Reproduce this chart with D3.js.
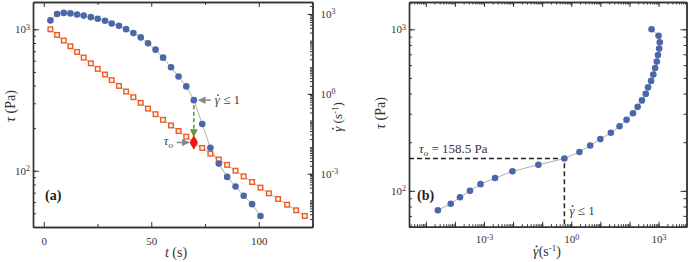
<!DOCTYPE html>
<html>
<head>
<meta charset="utf-8">
<script src="https://cdn.jsdelivr.net/npm/d3@7"></script>
<style>
  body { margin: 0; background: #fff; }
  svg { display: block; }
  svg text { font-family: "Liberation Serif", "Times New Roman", Times, "DejaVu Serif", serif; }
  .axis path, .axis line { stroke: #333; }
  .axis path { stroke-width: 1.4; }
  .axis text { font-size: 11px; fill: #333; }
</style>
</head>
<body>
<svg id="chart" width="690" height="262"></svg>
<script>
// time of each measurement (s)
var time = [3.1, 6.2, 9.3, 12.4, 15.5, 18.6, 21.9, 25.1, 28.5, 31.6, 35.0, 38.3, 41.7, 45.1, 48.5, 52.0, 55.5,
            59.2, 62.7, 66.3, 69.8, 73.7, 77.5, 81.4, 85.3, 89.2, 93.0, 96.9, 100.8, 104.7, 109.0, 113.2, 117.4, 121.4];
// applied stress (Pa)
var stress = [1000, 912, 832, 759, 692, 631, 575, 525, 479, 437, 398, 363, 331, 302, 275, 251, 229, 209, 191,
              174, 158.5, 145, 132, 120, 110, 100, 91.2, 83.2, 75.9, 69.2, 63.1, 57.5, 52.5, 47.9];
// shear rate (1/s), measured for the first 29 steps
var rate = [575, 1000, 1100, 1050, 955, 870, 760, 660, 556, 437, 363, 269, 191, 132, 79.4, 45.7, 22.9, 10.0,
            4.47, 1.91, 0.58, 0.074, 0.0095, 0.0024, 7.6e-4, 3.3e-4, 1.5e-4, 7.2e-5, 2.6e-5];
var yieldIndex = 20;
var tTicks = [0, 50, 100];
var tMinor = [25, 75, 125];

var svg = d3.select("#chart");

function sup(sel) {
  // turn plain values into 10 with a superscript exponent
  sel.selectAll("text").each(function(d) {
    var t = d3.select(this);
    if (t.text() === "") return;
    var e = Math.round(Math.log10(d));
    t.text("10");
    t.append("tspan").attr("dy", "-0.45em").attr("font-size", "8px").text(e);
  });
}
function minorLog(lo, hi) {
  var out = [];
  for (var e = -6; e <= 4; e++) for (var m = 1; m <= 9; m++) {
    var v = m * Math.pow(10, e);
    if (v >= lo && v <= hi) out.push(v);
  }
  return out;
}
// text starting with gamma-dot; the dot is a small circle placed over the glyph
function gammaText(parent, tr, anchor, fs, fill, rest) {
  var g = parent.append("g").attr("transform", tr);
  var t = g.append("text").attr("text-anchor", anchor).attr("font-size", fs + "px").attr("fill", fill)
    .html('<tspan font-style="italic">γ</tspan>' + rest);
  var e = t.node().getExtentOfChar(0);
  g.append("circle").attr("cx", e.x + e.width * 0.62).attr("cy", -fs * 0.58 - 1.5)
    .attr("r", Math.max(0.8, fs * 0.07)).attr("fill", fill);
}

// ---------- panel (a)
var xa = d3.scaleLinear().domain([-5, 125]).range([33, 312.5]);
var ya = d3.scaleLog().domain([40, 1560]).range([227, 2]);
var yr = d3.scaleLog().domain([1e-5, 2818]).range([227, 2]);

var ga = svg.append("g");
ga.append("g").attr("class", "axis").attr("transform", "translate(0,227)")
  .call(d3.axisBottom(xa).tickValues(tTicks).tickSizeInner(-5).tickSizeOuter(0).tickPadding(10));
ga.append("g").attr("class", "axis").attr("transform", "translate(0,227)")
  .call(d3.axisBottom(xa).tickValues(tMinor).tickFormat("").tickSizeInner(-3).tickSizeOuter(0));
ga.append("g").attr("class", "axis").attr("transform", "translate(0,2)")
  .call(d3.axisTop(xa).tickValues(tTicks).tickFormat("").tickSizeInner(-5).tickSizeOuter(0));
ga.append("g").attr("class", "axis").attr("transform", "translate(0,2)")
  .call(d3.axisTop(xa).tickValues(tMinor).tickFormat("").tickSizeInner(-3).tickSizeOuter(0));
ga.append("g").attr("class", "axis").attr("transform", "translate(33,0)")
  .call(d3.axisLeft(ya).tickValues(minorLog(40, 1560)).tickFormat("").tickSizeInner(-3).tickSizeOuter(0));
ga.append("g").attr("class", "axis").attr("transform", "translate(33,0)")
  .call(d3.axisLeft(ya).tickValues([100, 1000]).tickSizeInner(-6).tickSizeOuter(0).tickPadding(3))
  .call(sup);
ga.append("g").attr("class", "axis").attr("transform", "translate(312.5,0)")
  .call(d3.axisRight(yr).tickValues(minorLog(1e-5, 2818)).tickFormat("").tickSizeInner(-2.5).tickSizeOuter(0));
ga.append("g").attr("class", "axis").attr("transform", "translate(312.5,0)")
  .call(d3.axisRight(yr).tickValues([1e-3, 1, 1e3]).tickSizeInner(-5).tickSizeOuter(0).tickPadding(8))
  .call(sup);

var lineS = d3.line().x(function(d, i) { return xa(time[i]); }).y(function(d) { return ya(d); });
var lineR = d3.line().x(function(d, i) { return xa(time[i]); }).y(function(d) { return yr(d); });
ga.append("path").attr("d", lineS(stress)).attr("fill", "none").attr("stroke", "#999").attr("stroke-width", 0.8);
ga.append("path").attr("d", lineR(rate)).attr("fill", "none").attr("stroke", "#999").attr("stroke-width", 0.8);

ga.selectAll("rect.sq").data(stress).enter().append("rect")
  .attr("x", function(d, i) { return xa(time[i]) - 2.3; })
  .attr("y", function(d) { return ya(d) - 2.3; })
  .attr("width", 4.6).attr("height", 4.6)
  .attr("fill", "#fff4ee").attr("stroke", "#f05a22").attr("stroke-width", 1.4);
ga.selectAll("circle.rt").data(rate).enter().append("circle")
  .attr("cx", function(d, i) { return xa(time[i]); })
  .attr("cy", function(d) { return yr(d); })
  .attr("r", 3.3).attr("fill", "#4a67a8");

// yield marker
var xy = xa(time[yieldIndex]);
svg.append("defs").html(
  '<marker id="ag" viewBox="0 0 10 10" refX="9" refY="5" markerWidth="5" markerHeight="5" orient="auto"><path d="M0,0L10,5L0,10z" fill="#5a9a3a"/></marker>' +
  '<marker id="ar" viewBox="0 0 10 10" refX="9" refY="5" markerWidth="5" markerHeight="5" orient="auto"><path d="M0,0L10,5L0,10z" fill="#888"/></marker>');
ga.append("line").attr("x1", xy).attr("x2", xy)
  .attr("y1", yr(rate[yieldIndex]) + 5).attr("y2", ya(stress[yieldIndex]) - 6)
  .attr("stroke", "#5a9a3a").attr("stroke-width", 1.6).attr("stroke-dasharray", "4,2.5")
  .attr("marker-end", "url(#ag)");
ga.append("path").attr("d", d3.symbol().type(d3.symbolDiamond).size(60)())
  .attr("transform", "translate(" + xy + "," + ya(stress[yieldIndex]) + ")").attr("fill", "#ff1010");

ga.append("line").attr("x1", xy + 17).attr("x2", xy + 5).attr("y1", yr(rate[yieldIndex])).attr("y2", yr(rate[yieldIndex]))
  .attr("stroke", "#888").attr("stroke-width", 1.5).attr("marker-end", "url(#ar)");
gammaText(ga, "translate(" + (xy + 21) + "," + (yr(rate[yieldIndex]) + 4) + ")", "start", 13, "#444", " ≤ 1");
ga.append("line").attr("x1", xy - 17).attr("x2", xy - 5).attr("y1", ya(stress[yieldIndex])).attr("y2", ya(stress[yieldIndex]))
  .attr("stroke", "#888").attr("stroke-width", 1.5).attr("marker-end", "url(#ar)");
ga.append("text").attr("x", xy - 30).attr("y", ya(stress[yieldIndex]) + 3).attr("font-size", "13px").attr("fill", "#444")
  .html('<tspan font-style="italic">τ</tspan><tspan font-size="9px" dy="3" font-style="italic">o</tspan>');

ga.append("text").attr("x", 45).attr("y", 200).attr("font-size", "14px").attr("font-weight", "bold").attr("fill", "#222").text("(a)");
ga.append("text").attr("transform", "translate(15,106) rotate(-90)").attr("text-anchor", "middle")
  .attr("font-size", "14px").attr("fill", "#333")
  .html('<tspan font-style="italic">τ</tspan> (Pa)');
gammaText(ga, "translate(342,117) rotate(-90)", "middle", 13, "#333",
  ' (s<tspan dy="-4" font-size="9px">-1</tspan><tspan dy="4">)</tspan>');
ga.append("text").attr("x", 176).attr("y", 257).attr("text-anchor", "middle")
  .attr("font-size", "14px").attr("fill", "#333")
  .html('<tspan font-style="italic">t</tspan> (s)');

// ---------- panel (b)
var xb = d3.scaleLog().domain([Math.pow(10, -5.577), Math.pow(10, 3.96)]).range([409, 686.5]);
var yb = d3.scaleLog().domain([60, 1475]).range([226.7, 2]);
var gb = svg.append("g");
var bx = minorLog(Math.pow(10, -5.577), Math.pow(10, 3.96));
var decs = [1e-5, 1e-4, 1e-3, 1e-2, 1e-1, 1, 10, 100, 1e3];
gb.append("g").attr("class", "axis").attr("transform", "translate(0,226.7)")
  .call(d3.axisBottom(xb).tickValues(bx).tickFormat("").tickSizeInner(-2.5).tickSizeOuter(0));
gb.append("g").attr("class", "axis").attr("transform", "translate(0,226.7)")
  .call(d3.axisBottom(xb).tickValues(decs).tickFormat(function(d) { return [1e-3, 1, 1e3].indexOf(d) >= 0 ? d : ""; })
    .tickSizeInner(-5).tickSizeOuter(0).tickPadding(9))
  .call(sup);
gb.append("g").attr("class", "axis").attr("transform", "translate(0,2)")
  .call(d3.axisTop(xb).tickValues(bx).tickFormat("").tickSizeInner(-2.5).tickSizeOuter(0));
gb.append("g").attr("class", "axis").attr("transform", "translate(0,2)")
  .call(d3.axisTop(xb).tickValues(decs).tickFormat("").tickSizeInner(-5).tickSizeOuter(0));
gb.append("g").attr("class", "axis").attr("transform", "translate(409,0)")
  .call(d3.axisLeft(yb).tickValues(minorLog(60, 1475)).tickFormat("").tickSizeInner(-3).tickSizeOuter(0));
gb.append("g").attr("class", "axis").attr("transform", "translate(409,0)")
  .call(d3.axisLeft(yb).tickValues([100, 1000]).tickSizeInner(-6).tickSizeOuter(0).tickPadding(3))
  .call(sup);
gb.append("g").attr("class", "axis").attr("transform", "translate(686.5,0)")
  .call(d3.axisRight(yb).tickValues(minorLog(60, 1475)).tickFormat("").tickSizeInner(-3).tickSizeOuter(0));
gb.append("g").attr("class", "axis").attr("transform", "translate(686.5,0)")
  .call(d3.axisRight(yb).tickValues([100, 1000]).tickFormat("").tickSizeInner(-6).tickSizeOuter(0));

var lineB = d3.line().x(function(d) { return xb(d); }).y(function(d, i) { return yb(stress[i]); });
gb.append("path").attr("d", lineB(rate)).attr("fill", "none").attr("stroke", "#999").attr("stroke-width", 0.8);

var yx = xb(rate[yieldIndex]), yyv = yb(stress[yieldIndex]);
gb.append("path").attr("d", "M409," + yyv + "H" + yx + "V226.7")
  .attr("fill", "none").attr("stroke", "#222").attr("stroke-width", 1.5).attr("stroke-dasharray", "5,3");

gb.selectAll("circle.pt").data(rate).enter().append("circle")
  .attr("cx", function(d) { return xb(d); })
  .attr("cy", function(d, i) { return yb(stress[i]); })
  .attr("r", 3.3).attr("fill", "#4a67a8");

gb.append("text").attr("x", 419).attr("y", yyv - 6).attr("font-size", "13px").attr("fill", "#333")
  .html('<tspan font-style="italic">τ</tspan><tspan font-size="9px" dy="3" font-style="italic">o</tspan><tspan dy="-3"> = 158.5 Pa</tspan>');
gammaText(gb, "translate(" + (yx + 5) + ",215)", "start", 13, "#444", " ≤ 1");
gb.append("text").attr("x", 417).attr("y", 200).attr("font-size", "14px").attr("font-weight", "bold").attr("fill", "#222").text("(b)");
gb.append("text").attr("transform", "translate(385,113) rotate(-90)").attr("text-anchor", "middle")
  .attr("font-size", "14px").attr("fill", "#333")
  .html('<tspan font-style="italic">τ</tspan> (Pa)');
gammaText(gb, "translate(547,256)", "middle", 14, "#333",
  '(s<tspan dy="-5" font-size="9px">-1</tspan><tspan dy="5">)</tspan>');
</script>
</body>
</html>
